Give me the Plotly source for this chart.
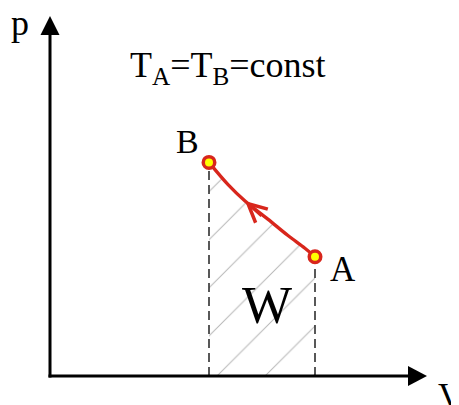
import plotly.graph_objects as go

# ---- data (arbitrary units) ----
volume = [3.00, 3.36, 3.68, 4.11, 4.49, 4.81, 5.00]      # isotherm, from B to A
pressure = [4.03, 3.61, 3.30, 2.96, 2.65, 2.41, 2.25]
state_names = ["B", "A"]
title_text = "T<sub>A</sub>=T<sub>B</sub>=const"
work_label = "W"
x_label = "V"
y_label = "p"

# ---- layout geometry (pixels) ----
FW, FH = 459, 405
OFF = 8                      # page body margin
X0, Y0, S = 50 - OFF, 376 - OFF, 53.0   # origin pixel (in figure) and pixels per unit
xr = [-X0 / S, (FW - X0) / S]
yr = [-(FH - Y0) / S, Y0 / S]

def P(xp, yp):
    """screen pixel -> paper fraction"""
    return (xp - OFF) / FW, 1 - (yp - OFF) / FH

RED = "#d8261c"
FONT = "Liberation Serif, Times New Roman, serif"

fig = go.Figure()

# hatched work area
fig.add_trace(go.Scatter(
    x=volume, y=pressure, mode="lines", line=dict(width=0, shape="spline"),
    fill="tozeroy", fillcolor="rgba(255,255,255,0)",
    fillpattern=dict(shape="/", size=34, solidity=0.03, fgcolor="#6e6e6e",
                     bgcolor="rgba(255,255,255,0)"),
    hoverinfo="skip", showlegend=False))

# dashed verticals
for i in (0, -1):
    fig.add_trace(go.Scatter(
        x=[volume[i], volume[i]], y=[0, pressure[i]], mode="lines",
        line=dict(color="#222222", width=1.5, dash="9px,5px"),
        hoverinfo="skip", showlegend=False))

# isotherm
fig.add_trace(go.Scatter(
    x=volume, y=pressure, mode="lines",
    line=dict(color=RED, width=3.3, shape="spline"),
    hoverinfo="skip", showlegend=False))

# end states
fig.add_trace(go.Scatter(
    x=[volume[0], volume[-1]], y=[pressure[0], pressure[-1]], mode="markers",
    marker=dict(size=11.5, color="#ffff00", line=dict(color=RED, width=3.5)),
    hoverinfo="skip", showlegend=False))

# axes lines and arrowheads
shapes = [
    dict(type="line", xref="x", yref="y", x0=0, y0=-1.5 / S, x1=0, y1=(376 - 34) / S,
         line=dict(color="black", width=3)),
    dict(type="path", xref="x", yref="y",
         path=f"M {-9.5/S},{(376-35)/S} L {9.5/S},{(376-35)/S} L 0,{(376-16)/S} Z",
         fillcolor="black", line=dict(width=0)),
    dict(type="line", xref="x", yref="y", x0=-1.5 / S, y0=0, x1=(409 - 50) / S, y1=0,
         line=dict(color="black", width=3)),
    dict(type="path", xref="x", yref="y",
         path=f"M {(408-50)/S},{10/S} L {(408-50)/S},{-10/S} L {(427-50)/S},0 Z",
         fillcolor="black", line=dict(width=0)),
]

ann = []
# arrow on the curve
ann.append(dict(x=volume[2], y=pressure[2], xref="x", yref="y", text="",
                showarrow=True, arrowhead=5, arrowwidth=3, arrowsize=1.2,
                arrowcolor=RED, ax=18, ay=16, standoff=0))
# state labels
ann.append(dict(x=volume[0], y=pressure[0], xref="x", yref="y", text=state_names[0],
                showarrow=False, xanchor="right", yanchor="middle",
                xshift=-8, yshift=21, font=dict(family=FONT, size=34, color="black")))
ann.append(dict(x=volume[-1], y=pressure[-1], xref="x", yref="y", text=state_names[1],
                showarrow=False, xanchor="left", yanchor="middle",
                xshift=13, yshift=-13, font=dict(family=FONT, size=35, color="black")))
# other text
x, y = P(9, 23)
ann.append(dict(x=x, y=y, xref="paper", yref="paper", text=y_label, showarrow=False,
                xanchor="left", yanchor="middle", font=dict(family=FONT, size=36, color="black")))
x, y = P(436, 396)
ann.append(dict(x=x, y=y, xref="paper", yref="paper", text=x_label, showarrow=False,
                xanchor="left", yanchor="middle", font=dict(family=FONT, size=35, color="black")))
x, y = P(128, 67)
ann.append(dict(x=x, y=y, xref="paper", yref="paper", text=title_text, showarrow=False,
                xanchor="left", yanchor="middle", font=dict(family=FONT, size=36, color="black")))
x, y = P(267, 305)
ann.append(dict(x=x, y=y, xref="paper", yref="paper", text=work_label, showarrow=False,
                xanchor="center", yanchor="middle", font=dict(family=FONT, size=53, color="black")))

fig.update_layout(
    width=FW, height=FH, margin=dict(l=0, r=0, t=0, b=0),
    paper_bgcolor="white", plot_bgcolor="white",
    xaxis=dict(range=xr, visible=False, fixedrange=True),
    yaxis=dict(range=yr, visible=False, fixedrange=True),
    shapes=shapes, annotations=ann, showlegend=False,
)

fig.write_html("out.html")
